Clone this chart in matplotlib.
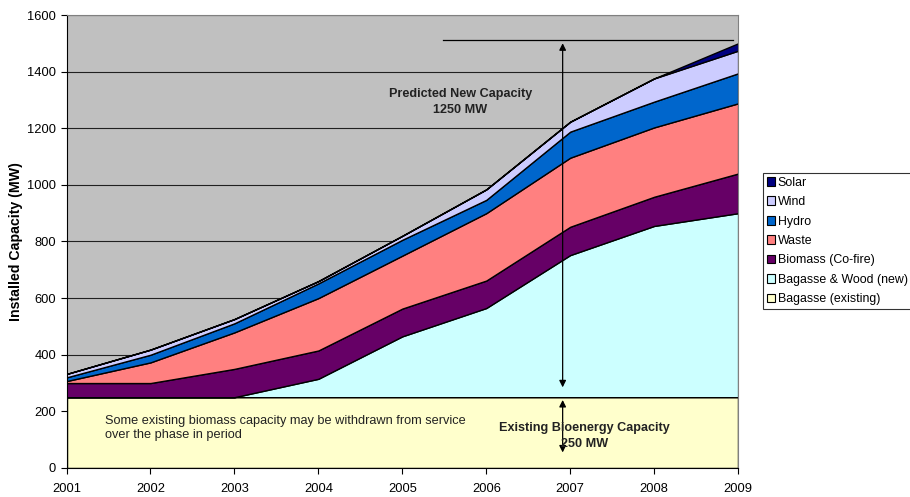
import matplotlib.pyplot as plt
import numpy as np

plt.rcParams['font.family'] = ['Liberation Sans', 'DejaVu Sans']

years = [2001, 2002, 2003, 2004, 2005, 2006, 2007, 2008, 2009]

# installed capacity by source (MW), stacked bottom to top
bagasse_existing = [250, 250, 250, 250, 250, 250, 250, 250, 250]
bagasse_new = [0, 0, 0, 65, 215, 315, 502, 605, 650]
biomass_cofire = [50, 50, 100, 100, 98, 97, 100, 103, 140]
waste = [7, 73, 129, 185, 187, 238, 244, 245, 248]
hydro = [13, 27, 32, 52, 56, 47, 92, 91, 106]
wind = [12, 18, 15, 8, 14, 37, 35, 82, 80]
solar = [0, 0, 0, 0, 0, 0, 0, 0, 26]

labels = ['Bagasse (existing)', 'Bagasse & Wood (new)', 'Biomass (Co-fire)',
          'Waste', 'Hydro', 'Wind', 'Solar']
colors = ['#FFFFCC', '#CCFFFF', '#660066', '#FF8080', '#0066CC', '#CCCCFF', '#000080']

existing_total = 250
predicted_new = 1250

fig = plt.figure(figsize=(9.1, 4.97), dpi=100)
ax = fig.add_axes([0.0731, 0.0584, 0.7380, 0.9114])
ax.set_facecolor('#C0C0C0')

series = [bagasse_existing, bagasse_new, biomass_cofire, waste, hydro, wind, solar]
polys = ax.stackplot(years, *series, colors=colors, labels=labels,
                     edgecolor='black', linewidth=1.0, zorder=2)

ax.set_xlim(2001, 2009)
ax.set_ylim(0, 1600)
ax.set_xticks(years)
ax.set_yticks(np.arange(0, 1601, 200))
ax.yaxis.grid(True, color='#202020', linewidth=0.8)
ax.set_axisbelow(True)
ax.tick_params(labelsize=9.3, direction='out', length=4, width=0.8, colors='black')
ax.tick_params(axis='x', pad=7)
for side in ['top', 'right']:
    ax.spines[side].set_color('#808080')
for side in ['left', 'bottom']:
    ax.spines[side].set_color('black')

ax.set_ylabel('Installed Capacity (MW)', fontsize=10.2, fontweight='bold')
ax.yaxis.set_label_coords(-0.065, 0.5)

# predicted new capacity marker
total_top = existing_total + predicted_new
ax.plot([2005.49, 2008.94], [total_top + 10, total_top + 10], color='black', lw=0.9, zorder=4)
ax.annotate('', xy=(2006.91, total_top + 10), xytext=(2006.91, existing_total + 25),
            arrowprops=dict(arrowstyle='<|-|>', color='black', lw=0.9,
                            mutation_scale=10), zorder=5)
ax.text(2005.69, 1293, 'Predicted New Capacity\n%d MW' % predicted_new, ha='center', va='center',
        fontsize=9.1, fontweight='bold', color='#222222', linespacing=1.5, zorder=6)

# existing capacity marker
ax.annotate('', xy=(2006.91, existing_total), xytext=(2006.91, 45),
            arrowprops=dict(arrowstyle='<|-|>', color='black', lw=0.9,
                            mutation_scale=10), zorder=5)
ax.text(2007.17, 113, 'Existing Bioenergy Capacity\n%d MW' % existing_total, ha='center',
        va='center', fontsize=9.1, fontweight='bold', color='#222222', linespacing=1.5, zorder=6)

ax.text(2001.46, 141, 'Some existing biomass capacity may be withdrawn from service\n'
        'over the phase in period', ha='left', va='center', fontsize=9.2,
        color='#222222', linespacing=1.25, zorder=6)

handles, labs = ax.get_legend_handles_labels()
leg = fig.legend(handles[::-1], labs[::-1], loc='upper left',
                 bbox_to_anchor=(763 / 910, 1 - 173 / 497), fontsize=8.9,
                 frameon=True, fancybox=False, shadow=False, borderpad=0.3,
                 handlelength=0.7, handleheight=0.7, handletextpad=0.2,
                 labelspacing=0.6, borderaxespad=0)
leg.get_frame().set_edgecolor('black')
leg.get_frame().set_linewidth(0.8)
for h in leg.legend_handles:
    h.set_edgecolor('black')
    h.set_linewidth(0.8)

fig.savefig('out.png', dpi=100)
